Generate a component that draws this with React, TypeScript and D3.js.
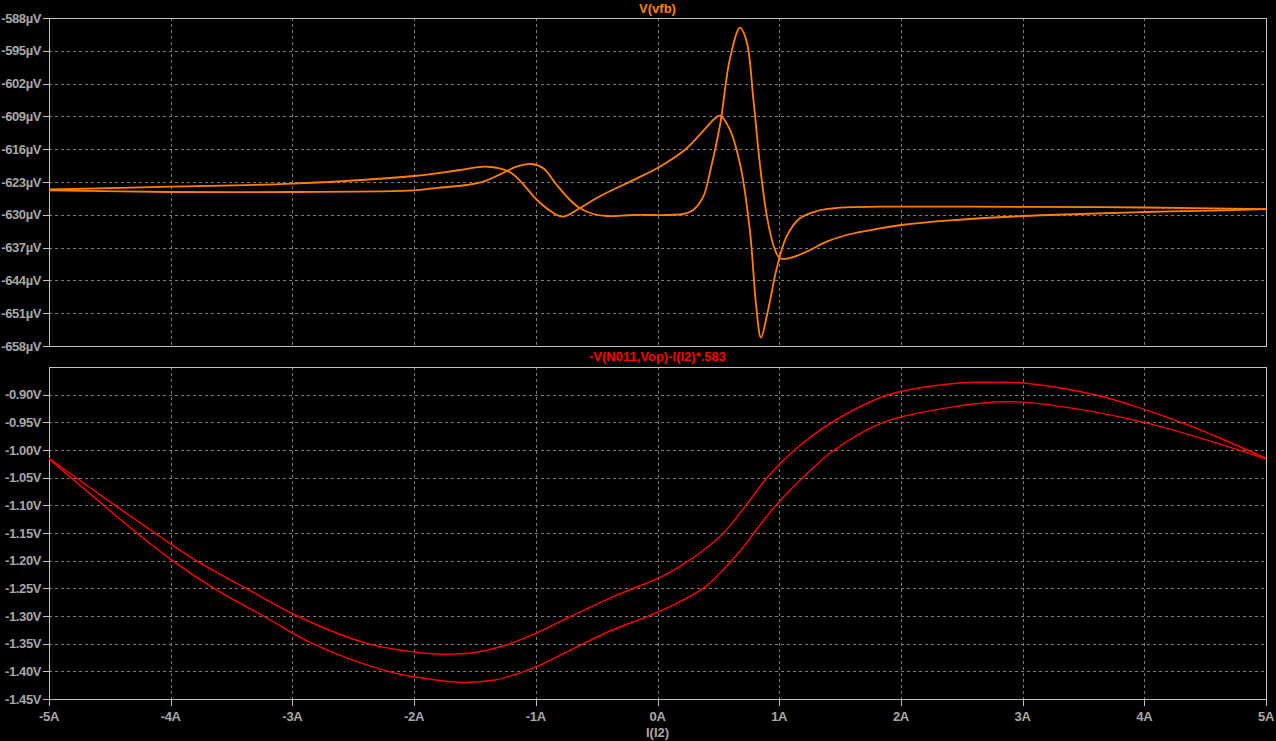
import React from "react";
import * as d3 from "d3";

// ---------- data ----------
const xTickValues = [-5, -4, -3, -2, -1, 0, 1, 2, 3, 4, 5];
const xTickLabels = ["-5A", "-4A", "-3A", "-2A", "-1A", "0A", "1A", "2A", "3A", "4A", "5A"];

const topTickValues = [-588, -595, -602, -609, -616, -623, -630, -637, -644, -651, -658];
const topTickLabels = ["-588µV", "-595µV", "-602µV", "-609µV", "-616µV", "-623µV", "-630µV", "-637µV", "-644µV", "-651µV", "-658µV"];

const bottomTickValues = [-0.9, -0.95, -1.0, -1.05, -1.1, -1.15, -1.2, -1.25, -1.3, -1.35, -1.4, -1.45];
const bottomTickLabels = ["-0.90V", "-0.95V", "-1.00V", "-1.05V", "-1.10V", "-1.15V", "-1.20V", "-1.25V", "-1.30V", "-1.35V", "-1.40V", "-1.45V"];

// V(vfb) branch 1 (µV)
const vfbBranch1I = [-5, -4, -3, -2, -1.62, -1.41, -1.21, -0.99, -0.88, -0.78, -0.64, -0.47, -0.2, 0.0, 0.13, 0.24, 0.32, 0.4, 0.458, 0.514, 0.59, 0.68, 0.76, 0.81, 0.85, 0.9, 0.98, 1.06, 1.17, 1.31, 1.5, 1.83, 3.0, 4.0, 5.0];
const vfbBranch1V = [-624.6, -624.0, -623.36, -621.72, -620.44, -619.73, -620.93, -626.84, -629.19, -630.4, -628.61, -625.99, -622.6, -620.0, -617.94, -615.8, -613.67, -611.4, -609.77, -608.85, -611.54, -619.37, -633.6, -649.25, -656.22, -651.38, -641.41, -634.67, -630.75, -629.19, -628.48, -628.27, -628.3, -628.44, -628.8];

// V(vfb) branch 2 (µV)
const vfbBranch2I = [-5, -4, -3, -2, -1.842, -1.568, -1.431, -1.294, -1.157, -1.034, -0.938, -0.828, -0.719, -0.637, -0.527, -0.417, -0.199, 0.212, 0.294, 0.376, 0.432, 0.514, 0.596, 0.678, 0.733, 0.787, 0.842, 0.897, 0.952, 1.007, 1.09, 1.226, 1.39, 1.554, 1.828, 2.006, 2.376, 3.0, 3.47, 4.0, 4.56, 5.0];
const vfbBranch2V = [-624.8, -625.13, -625.13, -624.8, -624.35, -623.64, -622.93, -621.36, -619.73, -619.16, -620.08, -623.64, -626.84, -628.61, -629.83, -630.26, -630.04, -629.83, -628.97, -626.14, -620.8, -610.83, -596.6, -590.07, -593.06, -605.14, -619.37, -630.04, -636.44, -639.28, -639.2, -637.87, -635.74, -634.31, -632.88, -632.18, -631.26, -630.26, -629.83, -629.4, -629.12, -628.8];

// -V(N011,Vop)-I(I2)*.583 upper branch (V)
const exprUpperI = [-5, -4.457, -4.13, -3.79, -3.38, -2.96, -2.38, -2.0, -1.76, -1.5, -1.24, -0.997, -0.688, -0.362, 0.021, 0.133, 0.361, 0.54, 0.725, 0.897, 1.124, 1.433, 1.887, 2.473, 2.765, 3.006, 3.61, 4.0, 4.325, 4.649, 5.0];
const exprUpperV = [-1.015, -1.1, -1.15, -1.2, -1.25, -1.3, -1.35, -1.365, -1.369, -1.366, -1.352, -1.331, -1.298, -1.265, -1.23, -1.217, -1.184, -1.1505, -1.1006, -1.0511, -1.0005, -0.95, -0.901, -0.879, -0.8777, -0.879, -0.901, -0.9265, -0.952, -0.981, -1.015];

// -V(N011,Vop)-I(I2)*.583 lower branch (V)
const exprLowerI = [-5, -4.278, -3.985, -3.644, -3.238, -2.832, -2.214, -1.9, -1.614, -1.338, -1.159, -1.0, -0.72, -0.4, -0.086, 0.133, 0.394, 0.588, 0.718, 0.79, 0.971, 1.189, 1.45, 1.856, 2.473, 2.863, 3.187, 4.0, 5.0];
const exprLowerV = [-1.016, -1.15, -1.2, -1.25, -1.3, -1.35, -1.4, -1.413, -1.42, -1.4156, -1.405, -1.392, -1.362, -1.328, -1.301, -1.28, -1.247, -1.205, -1.172, -1.1505, -1.1006, -1.051, -1.0005, -0.95, -0.9205, -0.9127, -0.9175, -0.95, -1.016];

// ---------- layout ----------
const W = 1276;
const H = 741;
const left = 49;
const right = 1266;
const topY0 = 18;
const topY1 = 346;
const botY0 = 367;
const botY1 = 699;

const GRID = "#7a7a7a";
const FRAME = "#c4c4c4";
const TEXT = "#a8a8a8";
const ORANGE = "#ff8000";
const RED = "#ff0000";
const FONT = "'Liberation Sans', Arial, sans-serif";

function zip(xs: number[], ys: number[]): [number, number][] {
  return xs.map((x, i) => [x, ys[i]] as [number, number]);
}

export default function App() {
  const x = d3.scaleLinear().domain([-5, 5]).range([left, right]);
  const yTop = d3.scaleLinear().domain([-588, -658]).range([topY0, topY1]);
  const yBot = d3.scaleLinear().domain([-0.85, -1.45]).range([botY0, botY1]);

  const curve = d3.curveCatmullRom.alpha(0.5);
  const lineTop = d3
    .line<[number, number]>()
    .x((d) => x(d[0]))
    .y((d) => yTop(d[1]))
    .curve(curve);
  const lineBot = d3
    .line<[number, number]>()
    .x((d) => x(d[0]))
    .y((d) => yBot(d[1]))
    .curve(curve);

  const vgrid = (y0: number, y1: number) =>
    xTickValues.slice(1, -1).map((v) => (
      <line key={"vg" + v} x1={Math.round(x(v)) + 0.5} x2={Math.round(x(v)) + 0.5} y1={y0} y2={y1} stroke={GRID} strokeDasharray="3,3" strokeWidth={1} />
    ));

  return (
    <div style={{ position: "fixed", left: 0, top: 0, width: W, height: H, background: "#000" }}>
      <svg width={W} height={H} style={{ display: "block", background: "#000" }} fontFamily={FONT}>
        <defs>
          <clipPath id="clipTop">
            <rect x={left} y={topY0} width={right - left} height={topY1 - topY0} />
          </clipPath>
          <clipPath id="clipBot">
            <rect x={left} y={botY0} width={right - left} height={botY1 - botY0} />
          </clipPath>
        </defs>

        {/* ---- top pane ---- */}
        {vgrid(topY0, topY1)}
        {topTickValues.slice(1, -1).map((v) => (
          <line key={"hgt" + v} x1={left} x2={right} y1={Math.round(yTop(v)) + 0.5} y2={Math.round(yTop(v)) + 0.5} stroke={GRID} strokeDasharray="3,3" />
        ))}
        <rect x={left + 0.5} y={topY0 + 0.5} width={right - left} height={topY1 - topY0} fill="none" stroke={FRAME} strokeWidth={1} />
        {topTickValues.map((v, i) => (
          <g key={"tt" + v}>
            <line x1={left - 6} x2={left} y1={Math.round(yTop(v)) + 0.5} y2={Math.round(yTop(v)) + 0.5} stroke={FRAME} />
            <text x={41} y={yTop(v) + 4.5} textAnchor="end" fill={TEXT} fontSize={13} fontWeight="bold" letterSpacing={-0.4}>
              {topTickLabels[i]}
            </text>
          </g>
        ))}
        <g clipPath="url(#clipTop)" fill="none" stroke={ORANGE} strokeLinejoin="round">
          <path d={lineTop(zip(vfbBranch1I, vfbBranch1V)) || ""} strokeWidth={1.8} />
          <path d={lineTop(zip(vfbBranch2I, vfbBranch2V)) || ""} strokeWidth={1.8} />
        </g>
        <text x={(left + right) / 2} y={13} textAnchor="middle" fill={ORANGE} fontSize={13} fontWeight="bold">
          V(vfb)
        </text>

        {/* ---- bottom pane ---- */}
        {vgrid(botY0, botY1)}
        {bottomTickValues.slice(0, -1).map((v) => (
          <line key={"hgb" + v} x1={left} x2={right} y1={Math.round(yBot(v)) + 0.5} y2={Math.round(yBot(v)) + 0.5} stroke={GRID} strokeDasharray="3,3" />
        ))}
        <rect x={left + 0.5} y={botY0 + 0.5} width={right - left} height={botY1 - botY0} fill="none" stroke={FRAME} strokeWidth={1} />
        {bottomTickValues.map((v, i) => (
          <g key={"bt" + v}>
            <line x1={left - 6} x2={left} y1={Math.round(yBot(v)) + 0.5} y2={Math.round(yBot(v)) + 0.5} stroke={FRAME} />
            <text x={41} y={yBot(v) + 4.5} textAnchor="end" fill={TEXT} fontSize={13} fontWeight="bold" letterSpacing={-0.4}>
              {bottomTickLabels[i]}
            </text>
          </g>
        ))}
        <g clipPath="url(#clipBot)" fill="none" stroke={RED} strokeLinejoin="round">
          <path d={lineBot(zip(exprUpperI, exprUpperV)) || ""} strokeWidth={1.4} />
          <path d={lineBot(zip(exprLowerI, exprLowerV)) || ""} strokeWidth={1.4} />
        </g>
        <text x={(left + right) / 2} y={361} textAnchor="middle" fill={RED} fontSize={13} fontWeight="bold">
          -V(N011,Vop)-I(I2)*.583
        </text>

        {/* ---- x axis ---- */}
        {xTickValues.map((v, i) => (
          <g key={"xt" + v}>
            <line x1={Math.round(x(v)) + 0.5} x2={Math.round(x(v)) + 0.5} y1={botY1} y2={botY1 + 7} stroke={FRAME} />
            <text x={x(v)} y={721} textAnchor="middle" fill={TEXT} fontSize={13} fontWeight="bold" letterSpacing={-0.3}>
              {xTickLabels[i]}
            </text>
          </g>
        ))}
        <text x={(left + right) / 2} y={737} textAnchor="middle" fill={TEXT} fontSize={13} fontWeight="bold">
          I(I2)
        </text>
      </svg>
    </div>
  );
}
